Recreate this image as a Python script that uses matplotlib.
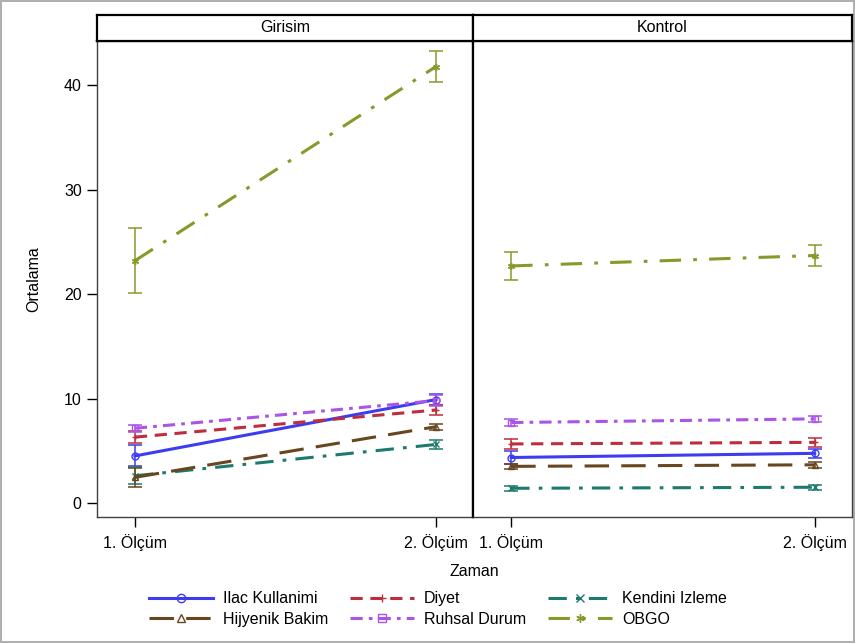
import matplotlib
matplotlib.use("Agg")
import matplotlib.pyplot as plt
from matplotlib.lines import Line2D

plt.rcParams['font.family'] = ['Liberation Sans', 'DejaVu Sans']

groups = ["Girisim", "Kontrol"]
times = ["1. Ölçüm", "2. Ölçüm"]
series = ["Ilac Kullanimi", "Diyet", "Kendini Izleme", "Hijyenik Bakim", "Ruhsal Durum", "OBGO"]

girisim_mean = {
    "Ilac Kullanimi": [4.5, 9.9],
    "Diyet": [6.3, 8.9],
    "Kendini Izleme": [2.6, 5.6],
    "Hijyenik Bakim": [2.45, 7.3],
    "Ruhsal Durum": [7.15, 9.8],
    "OBGO": [23.2, 41.8],
}
girisim_err = {
    "Ilac Kullanimi": [1.0, 0.55],
    "Diyet": [0.6, 0.45],
    "Kendini Izleme": [0.8, 0.4],
    "Hijyenik Bakim": [0.9, 0.3],
    "Ruhsal Durum": [0.35, 0.55],
    "OBGO": [3.1, 1.5],
}
kontrol_mean = {
    "Ilac Kullanimi": [4.35, 4.75],
    "Diyet": [5.65, 5.8],
    "Kendini Izleme": [1.4, 1.5],
    "Hijyenik Bakim": [3.5, 3.65],
    "Ruhsal Durum": [7.7, 8.05],
    "OBGO": [22.7, 23.7],
}
kontrol_err = {
    "Ilac Kullanimi": [0.6, 0.45],
    "Diyet": [0.5, 0.4],
    "Kendini Izleme": [0.25, 0.25],
    "Hijyenik Bakim": [0.25, 0.3],
    "Ruhsal Durum": [0.3, 0.3],
    "OBGO": [1.3, 1.0],
}
yticks = [0, 10, 20, 30, 40]

colors = {
    "Ilac Kullanimi": "#3C3CF0",
    "Diyet": "#BE2D3C",
    "Kendini Izleme": "#1E7A6C",
    "Hijyenik Bakim": "#684720",
    "Ruhsal Durum": "#AA55E6",
    "OBGO": "#869A2A",
}
styles = {
    "Ilac Kullanimi": "-",
    "Diyet": (0, (4, 2.5)),
    "Kendini Izleme": (0, (6, 3, 1.2, 3)),
    "Hijyenik Bakim": (0, (8, 4)),
    "Ruhsal Durum": (0, (4, 2, 1.2, 2)),
    "OBGO": (0, (7, 4, 1.2, 4)),
}
markers = {
    "Ilac Kullanimi": "o",
    "Diyet": "+",
    "Kendini Izleme": "x",
    "Hijyenik Bakim": "^",
    "Ruhsal Durum": "s",
    "OBGO": (6, 2, 0),
}

FS = 11.5
fig = plt.figure(figsize=(8.55, 6.43), dpi=100)
fig.patch.set_edgecolor("#b0b0b0")
fig.patch.set_linewidth(1.5)

W, H = 855, 643
def fr(x0, y0, x1, y1):
    return [x0 / W, 1 - y1 / H, (x1 - x0) / W, (y1 - y0) / H]

panels = [(97, 473), (473, 852)]
top, bottom, strip_top = 41, 517, 15
xs = [1, 2]
for gi, (g, (x0, x1)) in enumerate(zip(groups, panels)):
    ax = fig.add_axes(fr(x0, top, x1, bottom))
    sax = fig.add_axes(fr(x0, strip_top, x1, top))
    sax.set_xticks([]); sax.set_yticks([])
    sax.text(0.5, 0.5, g, ha="center", va="center", fontsize=FS, transform=sax.transAxes)
    for sp in sax.spines.values():
        sp.set_linewidth(1.6)
    means = girisim_mean if gi == 0 else kontrol_mean
    errs = girisim_err if gi == 0 else kontrol_err
    for s in series:
        c = colors[s]
        ax.errorbar(xs, means[s], yerr=errs[s], fmt="none", ecolor=c, elinewidth=1.1,
                    capsize=5, capthick=1.1, zorder=2)
        ax.plot(xs, means[s], color=c, linestyle=styles[s], linewidth=2.2,
                marker=markers[s], markersize=5, markerfacecolor="none",
                markeredgecolor=c, markeredgewidth=1.0, zorder=3)
    ax.set_xlim(0.874, 2.123)
    ax.set_ylim(-1.35, 44.25)
    ax.set_xticks(xs)
    ax.set_xticklabels(times, fontsize=FS)
    ax.tick_params(axis="x", length=7, width=1, pad=5)
    if gi == 0:
        ax.set_yticks(yticks)
        ax.set_yticklabels([str(v) for v in yticks], fontsize=FS)
        ax.tick_params(axis="y", length=7, width=1, pad=4)
        ax.set_ylabel("Ortalama", fontsize=FS, labelpad=16)
    else:
        ax.set_yticks([])
    for name, sp in ax.spines.items():
        sp.set_linewidth(1.0)
        sp.set_color("#404040")
    ax.spines["top"].set_linewidth(1.6)
    ax.spines["top"].set_color("black")
    if gi == 0:
        ax.spines["right"].set_linewidth(1.6)
        ax.spines["right"].set_color("black")
    else:
        ax.spines["left"].set_linewidth(1.6)
        ax.spines["left"].set_color("black")

fig.text((97 + 852) / 2 / W, 1 - 571 / H, "Zaman", ha="center", va="center", fontsize=FS)

handles = []
for s in ["Ilac Kullanimi", "Hijyenik Bakim", "Diyet", "Ruhsal Durum", "Kendini Izleme", "OBGO"]:
    handles.append(Line2D([], [], color=colors[s], linestyle=styles[s], linewidth=2.2,
                          marker=markers[s], markersize=6, markerfacecolor="none",
                          markeredgecolor=colors[s], markeredgewidth=1.0, label=s))
fig.legend(handles=handles, loc="center", bbox_to_anchor=(438 / W, 1 - 609 / H), ncol=3,
           frameon=False, fontsize=FS, handlelength=4.0, columnspacing=1.4,
           handletextpad=0.6, labelspacing=0.35)

fig.savefig("out.png", dpi=100, edgecolor=fig.get_edgecolor())
